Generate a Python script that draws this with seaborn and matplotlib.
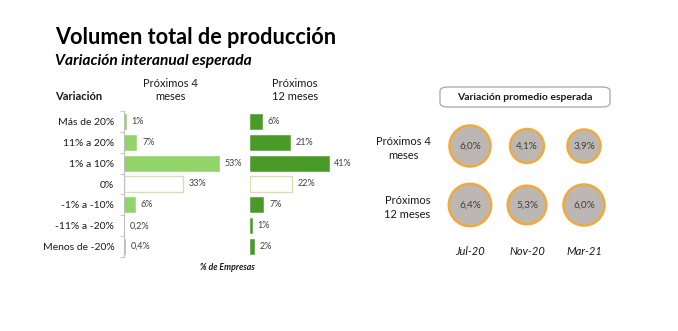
import matplotlib
matplotlib.use("Agg")
import matplotlib.pyplot as plt
from matplotlib.patches import FancyBboxPatch
import seaborn as sns
import pandas as pd
import numpy as np

categories = ["Más de 20%", "11% a 20%", "1% a 10%", "0%", "-1% a -10%", "-11% a -20%", "Menos de -20%"]
v4 = [1, 7, 53, 33, 6, 0.2, 0.4]
v12 = [6, 21, 41, 22, 7, 1, 2]
labels4 = ["1%", "7%", "53%", "33%", "6%", "0,2%", "0,4%"]
labels12 = ["6%", "21%", "41%", "22%", "7%", "1%", "2%"]

periods = ["Jul-20", "Nov-20", "Mar-21"]
horizons = ["Próximos 4\nmeses", "Próximos\n12 meses"]
avg4 = [6.0, 4.1, 3.9]
avg12 = [6.4, 5.3, 6.0]
avg4_lbl = ["6,0%", "4,1%", "3,9%"]
avg12_lbl = ["6,4%", "5,3%", "6,0%"]

sns.set_theme(style="white")
plt.rcParams["font.family"] = ["Lato", "DejaVu Sans"]

W, H = 678, 331
fig = plt.figure(figsize=(W / 100, H / 100), dpi=100)
fig.patch.set_facecolor("white")

def fx(px):
    return px / W

def fy(py):
    return 1 - py / H

TXT = "#1a1a1a"
VAL = "#404040"

# Titles
fig.text(fx(55), fy(38), "Volumen total de producción", fontsize=15.6, fontweight="bold",
         color="black", ha="left", va="center")
fig.text(fx(55), fy(61), "Variación interanual esperada", fontsize=11.2, fontweight="bold",
         fontstyle="italic", color="black", ha="left", va="center")
fig.text(fx(55), fy(97), "Variación", fontsize=8, fontweight="bold", color=TXT,
         ha="left", va="center")
fig.text(fx(170), fy(90), "Próximos 4\nmeses", fontsize=8, color=TXT, ha="center",
         va="center", multialignment="center", linespacing=1.3)
fig.text(fx(295), fy(90), "Próximos\n12 meses", fontsize=8, color=TXT, ha="center",
         va="center", multialignment="center", linespacing=1.3)
fig.text(fx(227), fy(268), "% de Empresas", fontsize=6.3, fontweight="bold",
         fontstyle="italic", color=TXT, ha="center", va="center")

top, bot = 111, 257
ax1 = fig.add_axes([fx(124), fy(bot), fx(240) - fx(124), (bot - top) / H])
ax2 = fig.add_axes([fx(250), fy(bot), fx(350) - fx(250), (bot - top) / H])

def draw_bars(ax, vals, lbls, color, zero_edge, show_labels):
    df = pd.DataFrame({"cat": categories, "val": vals})
    pal = {c: (("white") if c == "0%" else color) for c in categories}
    sns.barplot(data=df, y="cat", x="val", hue="cat", palette=pal, orient="h",
                width=0.72, legend=False, ax=ax, order=categories, saturation=1)
    for p, c in zip(ax.patches, categories):
        if c == "0%":
            p.set_edgecolor(zero_edge)
            p.set_linewidth(1.0)
        else:
            p.set_edgecolor(color)
            p.set_linewidth(0.4)
    for cont, lab in zip(ax.containers, lbls):
        ax.bar_label(cont, labels=[lab], padding=4, fontsize=6.5, color=VAL)
    ax.set_xlabel("")
    ax.set_ylabel("")
    ax.set_xticks([])
    ax.set_ylim(6.5, -0.5)
    for s in ["top", "right", "bottom"]:
        ax.spines[s].set_visible(False)
    if show_labels:
        ax.spines["left"].set_color("#bfbfbf")
        ax.spines["left"].set_linewidth(0.8)
        ax.set_yticks(range(len(categories)))
        ax.set_yticklabels(categories, fontsize=7.5, color=TXT)
        ax.tick_params(axis="y", which="major", length=0, pad=7)
        ax.set_yticks(np.arange(-0.5, 7, 1), minor=True)
        ax.tick_params(axis="y", which="minor", length=3, width=0.6, color="#bfbfbf",
                       direction="out", left=True)
    else:
        ax.spines["left"].set_visible(False)
        ax.set_yticks([])
    ax.patch.set_alpha(0)

draw_bars(ax1, v4, labels4, "#92d36a", "#cfe3b0", True)
ax1.set_xlim(0, 65)
draw_bars(ax2, v12, labels12, "#4a9a28", "#e0dcb0", False)
ax2.set_xlim(0, 52)

# Right panel: box title
bx0, by0, bx1, by1 = 440, 87, 610, 107
box = FancyBboxPatch((fx(bx0), fy(by1)), fx(bx1) - fx(bx0), (by1 - by0) / H,
                     boxstyle="round,pad=0,rounding_size=0.012", transform=fig.transFigure,
                     facecolor="white", edgecolor="#a6a6a6", linewidth=0.9)
fig.patches.append(box)
fig.text(fx((bx0 + bx1) / 2), fy((by0 + by1) / 2), "Variación promedio esperada",
         fontsize=7.5, fontweight="bold", color=TXT, ha="center", va="center")

# Bubbles
cdf = pd.DataFrame({
    "period": periods * 2,
    "horizon": [horizons[0]] * 3 + [horizons[1]] * 3,
    "value": avg4 + avg12,
    "label": avg4_lbl + avg12_lbl,
})
ax3 = fig.add_axes([fx(441.5), fy(234.5), fx(171), 118 / H])
sns.scatterplot(data=cdf, x="period", y="horizon", size="value", sizes=(0, 930),
                size_norm=(0, 6.4), color="#bdb7b4", edgecolor="#f2a93b", linewidth=1.8,
                legend=False, ax=ax3)
for _, r in cdf.iterrows():
    ax3.text(periods.index(r["period"]), horizons.index(r["horizon"]), r["label"],
             ha="center", va="center", fontsize=7.2, color=VAL)
ax3.set_xlim(-0.5, 2.5)
ax3.set_ylim(1.5, -0.5)
ax3.set_xlabel("")
ax3.set_ylabel("")
for s in ax3.spines.values():
    s.set_visible(False)
ax3.tick_params(axis="both", length=0)
ax3.set_xticks(range(3))
ax3.set_xticklabels(periods, fontsize=8, fontstyle="italic", color=TXT)
ax3.tick_params(axis="x", pad=8)
ax3.set_yticks(range(2))
ax3.set_yticklabels(horizons, fontsize=8, color=TXT, multialignment="center",
                    linespacing=1.3)
ax3.tick_params(axis="y", pad=8)
ax3.patch.set_alpha(0)

fig.savefig("out.png", dpi=100, facecolor="white")
